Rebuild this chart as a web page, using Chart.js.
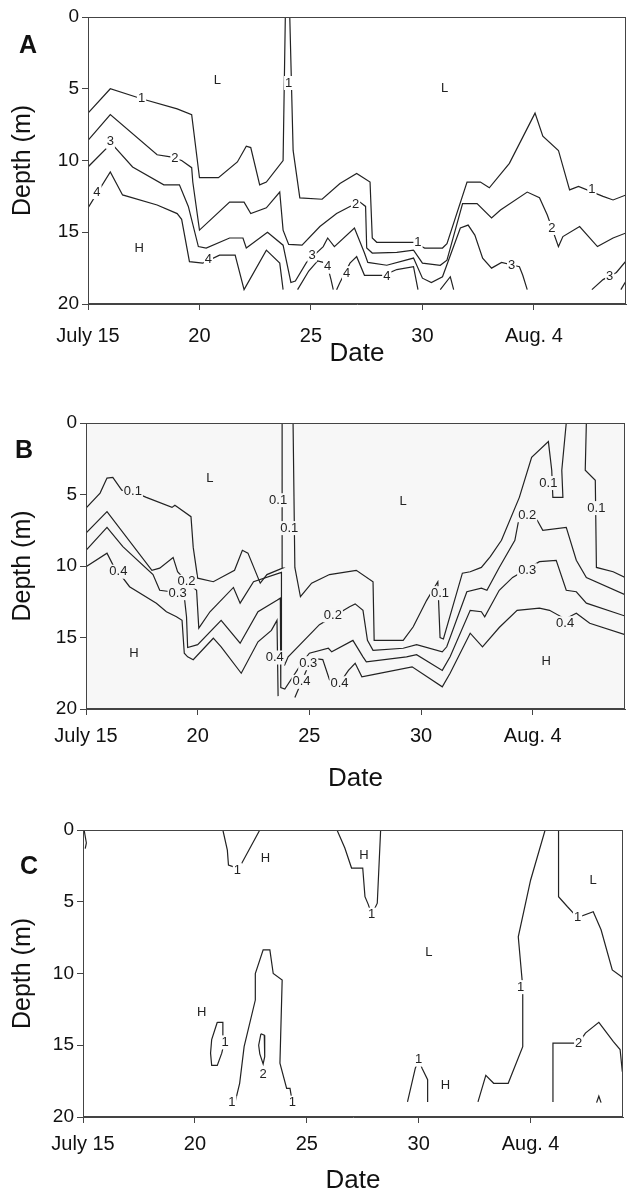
<!DOCTYPE html>
<html>
<head>
<meta charset="utf-8">
<script src="https://cdn.jsdelivr.net/npm/chart.js@4.4.1/dist/chart.umd.min.js"></script>
<style>
  html, body { margin: 0; padding: 0; background: #fff; overflow: hidden; }
  body { width: 627px; height: 1195px; position: relative; font-family: "Liberation Sans", Arial, sans-serif; }
  .panel { position: absolute; left: 0; width: 627px; }
  .letter { position: absolute; transform: translate(-50%, -50%); font-weight: bold; font-size: 25px; line-height: 1; color: #111; }
</style>
</head>
<body>
<div class="panel" style="top:0;height:367px"><canvas id="chartA"></canvas></div>
<div class="panel" style="top:390px;height:402px"><canvas id="chartB"></canvas></div>
<div class="panel" style="top:790px;height:404px"><canvas id="chartC"></canvas></div>
<div class="letter" style="left:28px;top:44px">A</div>
<div class="letter" style="left:24px;top:449px">B</div>
<div class="letter" style="left:29px;top:865px">C</div>
<script>
// x = days after July 15, y = depth (m)
const dateTicks = [0, 5, 10, 15, 20];
const dateTickLabels = ["July 15", "20", "25", "30", "Aug. 4"];
const depthTicks = [0, 5, 10, 15, 20];
const DAY_MAX = 24.13;

// panel A contours
const a1 = [[0,6.7],[1.0,5.0],[2.4,5.7],[4.0,6.4],[4.65,6.8],[5.0,11.2],[5.85,11.2],[6.7,10.1],[7.1,9.0],[7.3,9.1],[7.7,11.7],[8.0,11.5],[8.75,10.0],[8.85,0],[9.05,0],[9.2,9.3],[9.5,12.6],[10.5,12.7],[11.3,11.6],[12.05,10.9],[12.65,11.5],[12.75,15.4],[12.95,15.7],[14.6,15.7],[15.1,16.1],[15.9,16.1],[16.1,15.8],[17.0,11.5],[17.6,11.5],[18.0,11.9],[18.9,10.2],[20.05,6.7],[20.4,8.3],[21.1,9.3],[21.6,12.05],[22.0,11.8],[23.1,12.5],[23.55,12.75],[24.13,12.4]];
const a2 = [[0,8.6],[1.0,6.8],[3.1,9.6],[3.7,9.75],[4.2,10.0],[4.65,10.5],[4.7,11.5],[5.0,14.85],[6.35,12.9],[7.0,12.9],[7.3,13.7],[8.0,13.3],[8.6,12.2],[8.75,14.85],[9.0,15.85],[9.6,15.9],[10.4,14.6],[11.15,13.7],[11.75,13.2],[12.2,12.9],[12.45,13.2],[12.5,16.1],[12.75,16.45],[13.85,16.4],[14.6,16.25],[15.0,17.15],[15.8,17.3],[16.1,16.95],[16.8,13.0],[17.45,13.0],[18.1,14.0],[18.5,13.45],[19.7,12.2],[20.25,12.6],[20.6,13.8],[21.1,16.0],[21.3,15.3],[22.05,14.6],[22.85,16.0],[23.55,15.4],[24.13,15.05]];
const a3 = [[0,10.45],[1.05,8.8],[2.0,10.45],[3.4,11.7],[4.1,11.7],[4.5,13.2],[4.95,16.0],[5.3,16.1],[6.35,15.4],[6.95,15.4],[7.1,16.1],[8.05,15.0],[8.75,15.9],[9.1,18.5],[9.3,18.4],[9.8,17.1],[10.55,16.0],[10.75,15.4],[11.05,16.0],[11.95,14.7],[12.4,16.45],[12.55,17.1],[13.4,17.3],[14.6,16.8],[15.0,18.2],[15.4,18.5],[15.9,18.1],[16.7,14.7],[17.05,14.5],[17.35,15.2],[17.7,16.8],[18.1,17.5],[18.55,17.1],[19.35,17.4],[19.5,18.0],[19.7,19.0]];
const a3b = [[22.6,19.0],[23.1,18.3],[23.7,17.8],[24.13,17.0]];
const a4 = [[0,13.3],[1.0,10.8],[1.55,12.4],[3.1,13.1],[4.0,13.7],[4.2,14.1],[4.55,17.05],[5.15,17.15],[5.9,16.6],[6.6,16.6],[7.0,19.0],[8.0,16.25],[8.6,17.15],[8.75,19.0]];
const a4b = [[9.4,19.0],[9.9,17.7],[10.3,17.0],[10.55,17.1],[10.75,17.4],[10.9,18.3],[11.0,19.0]];
const a4c = [[11.15,19.0],[11.3,18.5],[11.75,17.15],[12.05,16.7],[12.4,18.0],[13.25,18.0],[13.85,17.6],[14.6,17.4],[14.8,19.0]];
const a4d = [[15.8,19.0],[16.25,18.1],[16.4,19.0]];
const a4e = [[23.9,19.0],[24.13,18.4]];
const notesA = [
  ["1",2.4,5.7],["1",9.0,4.6],["1",14.8,15.7],["1",22.6,12.05],
  ["2",3.9,9.85],["2",12.0,13.05],["2",20.8,14.7],
  ["3",1.0,8.7],["3",10.05,16.6],["3",19.0,17.3],["3",23.4,18.1],
  ["4",0.4,12.2],["4",5.4,16.9],["4",10.75,17.4],["4",11.6,17.85],["4",13.4,18.1],
  ["L",5.8,4.4],["L",16.0,4.95],["H",2.3,16.1]
];

// panel B contours
const b1 = [[0,5.95],[0.63,4.9],[0.94,3.85],[1.2,3.8],[1.6,4.7],[2.1,4.8],[2.7,5.2],[3.85,5.9],[3.98,5.75],[4.7,6.55],[4.8,8.7],[5.0,10.85],[5.7,11.1],[6.65,10.3],[7.0,8.9],[7.25,9.1],[7.8,11.2],[8.1,10.6],[8.8,10.15],[8.78,0]];
const b1b = [[9.27,0],[9.35,10.1],[9.6,12.15],[10.1,11.2],[10.9,10.6],[12.1,10.3],[12.85,11.1],[12.9,15.2],[14.2,15.2],[14.65,14.25],[15.25,12.4],[15.75,11.1],[15.85,15.0],[16.0,15.1],[16.85,10.5],[17.2,10.4],[17.7,10.1],[18.1,9.35],[18.6,8.2],[19.4,5.2],[19.95,2.4],[20.7,1.3],[20.85,3.3],[20.9,5.2],[21.35,5.2],[21.3,3.3],[21.5,0]];
const b1c = [[22.4,0],[22.35,3.3],[22.8,4.0],[22.85,10.1],[23.6,10.4],[24.13,10.8]];
const b2 = [[0,7.7],[0.94,6.2],[2.95,10.3],[3.3,10.15],[3.9,9.4],[4.1,10.4],[4.5,11.1],[4.95,11.7],[5.05,14.35],[5.55,13.2],[6.6,11.5],[6.9,12.6],[7.5,11.1],[8.75,10.45],[8.75,16.3],[8.9,16.9],[9.05,16.35],[10.45,14.1],[11.8,12.85],[12.05,12.65],[12.4,13.1],[12.6,15.2],[12.85,15.9],[14.2,15.75],[14.8,15.5],[15.95,16.0],[16.15,15.65],[17.05,11.8],[17.7,11.55],[17.95,11.7],[18.5,10.1],[19.2,8.2],[19.4,6.55],[20.2,6.8],[20.45,7.5],[21.5,7.3],[21.95,9.6],[22.4,10.8],[24.13,12.0]];
const b3 = [[0,8.9],[0.94,7.3],[1.65,8.65],[3.0,10.6],[3.3,11.7],[3.8,11.8],[4.4,12.15],[4.5,13.55],[4.55,15.7],[5.0,15.5],[6.05,13.8],[6.9,15.4],[7.7,13.2],[8.55,12.4],[8.7,12.25],[8.72,18.5],[8.9,18.6],[9.7,16.7],[10.0,16.1],[10.85,15.75],[11.0,16.0],[11.95,15.2],[12.4,16.35],[12.55,16.7],[14.35,16.35],[14.8,16.2],[15.95,17.3],[16.3,16.35],[17.2,13.1],[17.7,13.2],[17.85,13.55],[18.5,11.7],[19.1,10.8],[20.3,9.7],[21.05,9.6],[21.5,11.7],[21.95,11.8],[22.4,12.6],[24.13,13.5]];
const b4 = [[0,10.05],[0.94,9.1],[1.2,9.9],[1.95,11.45],[3.15,12.6],[3.6,13.2],[4.05,13.55],[4.3,13.8],[4.4,16.1],[4.55,16.35],[4.8,16.55],[5.7,15.05],[6.05,15.65],[6.95,17.5],[7.7,15.3],[8.3,14.5],[8.55,13.8],[8.6,19.1]];
const b4b = [[9.35,19.2],[9.65,18.1],[10.1,16.45],[10.6,16.55],[10.9,17.95],[11.35,18.2],[11.75,17.3],[12.05,16.8],[12.35,17.75],[12.85,17.6],[14.6,17.05],[15.95,18.45],[16.3,17.5],[17.2,14.7],[17.75,15.65],[18.5,14.3],[19.3,13.1],[20.3,12.95],[20.75,13.1],[21.45,13.7],[21.95,13.3],[22.55,14.0],[24.13,14.8]];
const notesB = [
  ["0.1",2.1,4.8],["0.1",8.6,5.4],["0.1",9.1,7.35],["0.1",15.85,11.9],["0.1",20.7,4.2],["0.1",22.85,5.95],
  ["0.2",4.5,11.1],["0.2",11.05,13.45],["0.2",19.75,6.45],
  ["0.3",4.1,11.9],["0.3",9.95,16.8],["0.3",19.75,10.3],
  ["0.4",1.45,10.4],["0.4",8.45,16.4],["0.4",9.65,18.1],["0.4",11.35,18.2],["0.4",21.45,14.0],
  ["L",5.55,3.85],["L",14.2,5.5],["H",2.15,16.1],["H",20.6,16.7]
];

// panel C contours
const c1 = [[0.05,0],[0.15,0.9],[0.1,1.3]];
const c2 = [[6.25,0],[6.45,1.4],[6.5,2.45],[6.7,2.55],[6.9,2.8],[7.1,2.3],[7.9,0]];
const c3 = [[6.0,13.4],[6.25,13.4],[6.25,14.4],[6.3,14.9],[6.2,15.55],[6.0,16.4],[5.75,16.4],[5.7,15.55],[5.75,14.6],[6.0,13.4]];
const c4 = [[6.8,18.95],[7.0,17.65],[7.2,15.1],[7.7,11.85],[7.7,10.0],[8.05,8.35],[8.35,8.35],[8.5,10.0],[8.9,10.45],[8.8,16.25],[9.1,18.0],[9.25,18.0],[9.35,18.95]];
const c5 = [[7.95,14.2],[8.1,14.3],[8.12,15.8],[8.05,16.3],[7.9,15.6],[7.85,15.0],[7.95,14.2]];
const c6 = [[11.35,0],[11.7,1.25],[12.0,2.65],[12.5,2.65],[12.6,4.65],[12.75,5.2],[12.9,5.9],[13.15,5.1],[13.3,0]];
const c7 = [[14.5,18.95],[14.85,16.6],[15.0,16.0],[15.15,16.6],[15.4,17.4],[15.4,18.95]];
const c8 = [[17.65,18.95],[18.0,17.1],[18.35,17.65],[19.0,17.65],[19.65,15.1],[19.65,10.95],[19.45,7.45],[20.0,3.5],[20.65,0]];
const c9 = [[21.25,0],[21.25,4.65],[21.65,5.35],[22.1,6.1],[22.8,5.7],[23.15,6.95],[23.65,9.75],[24.13,10.3]];
const c10 = [[21.0,18.95],[21.0,14.85],[22.15,14.85],[22.45,14.15],[23.05,13.4],[23.7,14.75],[24.0,15.3],[24.1,16.85]];
const c11 = [[22.95,19.0],[23.05,18.55],[23.15,19.0]];
const notesC = [
  ["1",6.9,2.8],["1",12.9,5.9],["1",6.35,14.8],["1",6.65,19.0],["1",9.35,19.0],["2",8.05,17.05],
  ["1",15.0,16.0],["1",19.55,10.95],["1",22.1,6.1],["2",22.15,14.85],
  ["H",8.15,1.95],["H",12.55,1.75],["H",5.3,12.7],["H",16.2,17.8],["L",15.45,8.55],["L",22.8,3.5]
];

const FONT = '"Liberation Sans", Arial, sans-serif';
const INK = "#222";
Chart.defaults.font.family = FONT;
Chart.defaults.color = "#111";

const framePlugin = {
  id: "frame",
  beforeDraw(chart, args, opts) {
    const a = chart.chartArea;
    const ctx = chart.ctx;
    ctx.save();
    ctx.fillStyle = opts.bg || "#fff";
    ctx.fillRect(a.left, a.top, a.right - a.left, a.bottom - a.top);
    ctx.restore();
  },
  afterDatasetsDraw(chart, args, opts) {
    const a = chart.chartArea;
    const ctx = chart.ctx;
    const xs = chart.scales.x;
    const ys = chart.scales.y;
    ctx.save();
    ctx.font = "13px " + FONT;
    ctx.textAlign = "center";
    ctx.textBaseline = "middle";
    (opts.notes || []).forEach(function (n) {
      const px = xs.getPixelForValue(n[1]);
      const py = ys.getPixelForValue(n[2]);
      if (n[0] !== "L" && n[0] !== "H") {
        const w = ctx.measureText(n[0]).width;
        ctx.fillStyle = opts.bg || "#fff";
        ctx.fillRect(px - w / 2 - 1, py - 7, w + 2, 14);
      }
      ctx.fillStyle = INK;
      ctx.fillText(n[0], px, py);
    });
    ctx.strokeStyle = "#444";
    ctx.lineWidth = 1;
    ctx.strokeRect(Math.round(a.left) + 0.5, Math.round(a.top) + 0.5, Math.round(a.right - a.left) - 1, Math.round(a.bottom - a.top) - 1);
    ctx.restore();
  },
};

function buildChart(id, lines, notes, cfg) {
  return new Chart(document.getElementById(id), {
    type: "scatter",
    data: {
      datasets: lines.map(function (pts) {
        return {
          data: pts.map(function (p) { return { x: p[0], y: p[1] }; }),
          showLine: true,
          borderColor: INK,
          borderWidth: 1.2,
          pointRadius: 0,
          pointHoverRadius: 0,
          tension: 0,
          fill: false,
        };
      }),
    },
    options: {
      responsive: true,
      maintainAspectRatio: false,
      animation: false,
      events: [],
      layout: { padding: { top: cfg.top, right: cfg.right, bottom: 0, left: 0 } },
      plugins: {
        legend: { display: false },
        tooltip: { enabled: false },
        frame: { bg: cfg.bg, notes: notes },
      },
      scales: {
        x: {
          type: "linear",
          min: 0,
          max: DAY_MAX,
          afterBuildTicks: function (s) { s.ticks = dateTicks.map(function (v) { return { value: v }; }); },
          afterFit: function (s) { s.height = cfg.xH; },
          ticks: {
            autoSkip: false,
            maxRotation: 0,
            padding: cfg.tickPad,
            font: { size: 20 },
            callback: function (v, i) { return dateTickLabels[i]; },
          },
          grid: { drawOnChartArea: false, drawTicks: true, tickLength: 6, color: "#444" },
          border: { display: true, color: "#444" },
          title: { display: true, text: "Date", font: { size: 26, lineHeight: 1 }, padding: { top: 0, bottom: 0 } },
        },
        y: {
          type: "linear",
          min: 0,
          max: 20,
          reverse: true,
          afterBuildTicks: function (s) { s.ticks = depthTicks.map(function (v) { return { value: v }; }); },
          afterFit: function (s) { s.width = cfg.left; },
          ticks: { padding: 3, font: { size: 19 } },
          grid: { drawOnChartArea: false, drawTicks: true, tickLength: 6, color: "#444" },
          border: { display: true, color: "#444" },
          title: { display: true, text: "Depth (m)", font: { size: 25, lineHeight: 1 }, padding: { top: 11, bottom: 0 } },
        },
      },
    },
    plugins: [framePlugin],
  });
}

buildChart("chartA", [a1, a2, a3, a3b, a4, a4b, a4c, a4d, a4e], notesA,
  { top: 17, right: 1, left: 88, xH: 63, tickPad: 14, bg: "#fff" });
buildChart("chartB", [b1, b1b, b1c, b2, b3, b4, b4b], notesB,
  { top: 33, right: 2, left: 86, xH: 83, tickPad: 9, bg: "#f7f7f7" });
buildChart("chartC", [c1, c2, c3, c4, c5, c6, c7, c8, c9, c10, c11], notesC,
  { top: 40, right: 4, left: 83, xH: 77, tickPad: 9, bg: "#fff" });
</script>
</body>
</html>
